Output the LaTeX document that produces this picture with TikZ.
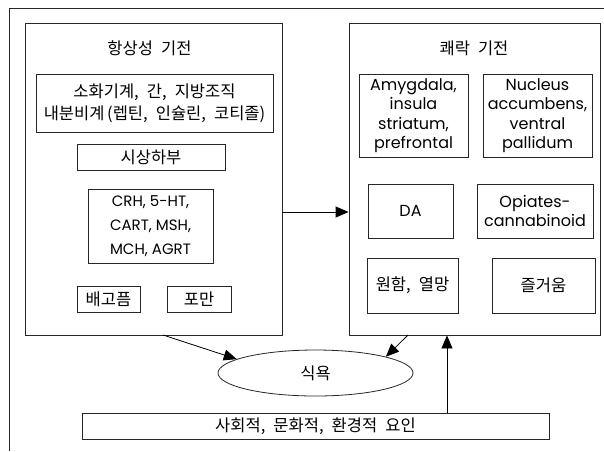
\documentclass[tikz,border=0pt]{standalone}
\usepackage{fontspec}
\setmainfont{Poppins}
\newfontfamily\kr[WordSpace=2.2]{Noto Sans CJK KR}
\usetikzlibrary{shapes.geometric,arrows.meta}
\begin{document}
\begin{tikzpicture}[x=1pt,y=-1pt,
  box/.style={draw=black!85,line width=0.8pt,rectangle,inner sep=0pt,align=center},
  krtext/.style={font=\kr\fontsize{16.5}{22}\selectfont},
  latA/.style={font=\fontsize{15}{24}\selectfont},
  latB/.style={font=\fontsize{16}{19.5}\selectfont},
  arr/.style={draw=black,line width=0.8pt,-{Triangle[length=13pt,width=11pt]}},
  line/.style={draw=black!85,line width=0.8pt}]
\useasboundingbox (0,0) rectangle (604,451);
% outer partial frame
\coordinate (fb) at (9,451);
\coordinate (fc) at (9,8);
\coordinate (fr) at (604,8);
\draw[line] (fb) -- (fc) -- (fr);
% left box
\node[box,minimum width=257pt,minimum height=312pt] (L) at (153.5,179) {};
\node[krtext] (Lt) at (149.5,48) {항상성 기전};
\node[box,krtext,minimum width=237pt,minimum height=58pt] (L1) at (154.5,103) {소화기계, 간, 지방조직\\내분비계\,(렙틴, 인슐린, 코티졸)};
\node[box,krtext,minimum width=148pt,minimum height=26pt] (L2) at (151,157) {시상하부};
\node[box,latA,minimum width=125pt,minimum height=74pt] (L3) at (150.5,226) {CRH, 5-HT,\\CART, MSH,\\MCH, AGRT};
\node[box,krtext,minimum width=63pt,minimum height=26pt] (L4) at (108.5,299) {배고픔};
\node[box,krtext,minimum width=64pt,minimum height=26pt] (L5) at (199,299) {포만};
% right box
\node[box,minimum width=251pt,minimum height=312pt] (R) at (474.5,179) {};
\node[krtext] (Rt) at (474,48) {쾌락 기전};
\node[box,latB,minimum width=109pt,minimum height=83pt] (R1) at (413.5,115.5) {Amygdala,\\insula\\striatum,\\prefrontal};
\node[box,latB,minimum width=109pt,minimum height=83pt] (R2) at (537.5,115.5) {Nucleus\\accumbens,\\ventral\\pallidum};
\node[box,latB,minimum width=85pt,minimum height=54pt] (R3) at (410.5,211) {DA};
\node[box,latB,minimum width=116pt,minimum height=54pt] (R4) at (535,211) {Opiates-\\cannabinoid};
\node[box,krtext,minimum width=91pt,minimum height=55pt] (R5) at (412.5,285.5) {원함, 열망};
\node[box,krtext,minimum width=103pt,minimum height=55pt] (R6) at (543.5,285.5) {즐거움};
% ellipse
\node[draw=black!85,line width=0.8pt,ellipse,minimum width=195pt,minimum height=46pt,inner sep=0pt,krtext] (E) at (315.5,373) {식욕};
% bottom box
\node[box,krtext,minimum width=467pt,minimum height=26pt] (B) at (315.5,426) {사회적, 문화적, 환경적 요인};
% arrows
\draw[arr] (L.east |- 0,212) -- (R.west |- 0,212);
\coordinate (a1) at (163,335);
\draw[arr] (a1) -- (E.170);
\coordinate (a2) at (408,335);
\draw[arr] (a2) -- (E.13);
\coordinate (a3) at (447,413);
\draw[arr] (a3) -- (a3 |- R.south);
\end{tikzpicture}
\end{document}
